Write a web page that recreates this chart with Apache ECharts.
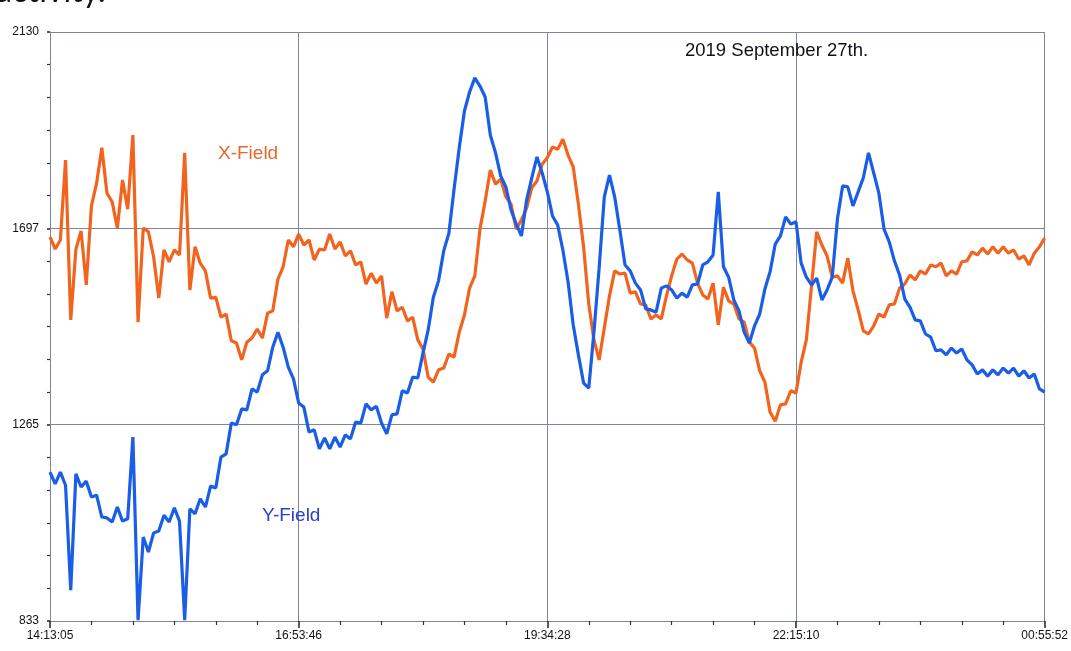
<!DOCTYPE html>
<html>
<head>
<meta charset="utf-8">
<script src="https://cdn.jsdelivr.net/npm/echarts@6/dist/echarts.min.js"></script>
<style>
html,body{margin:0;padding:0;background:#fff;}
#chart{width:1071px;height:651px;}
</style>
</head>
<body>
<div id="chart"></div>
<script>
// Time ticks (labels) and y tick labels
var xTickLabels = ['14:13:05', '16:53:46', '19:34:28', '22:15:10', '00:55:52'];
var yTickLabels = ['833', '1265', '1697', '2130'];
var majorStepSec = 9641;            // 2:40:41 between labelled ticks
var samplesPerMajor = 48;           // readings per labelled interval

// X-Field readings (orange)
var xField = [
1679,1652,1672,1848,1496,1652,1692,1573,1747,1797,
1875,1775,1756,1698,1804,1740,1903,1491,1698,1690,
1635,1544,1650,1624,1650,1639,1864,1562,1657,1621,
1604,1544,1546,1502,1509,1450,1445,1408,1447,1456,
1476,1456,1511,1516,1586,1613,1672,1657,1685,1661,
1672,1628,1652,1650,1685,1652,1668,1637,1648,1617,
1624,1575,1599,1577,1593,1500,1558,1516,1524,1494,
1502,1452,1432,1370,1359,1386,1390,1421,1414,1469,
1507,1566,1593,1696,1758,1826,1795,1806,1767,1751,
1696,1716,1742,1787,1802,1839,1853,1877,1872,1894,
1859,1833,1751,1657,1531,1452,1408,1478,1549,1604,
1597,1599,1555,1558,1531,1529,1498,1507,1498,1549,
1593,1630,1641,1628,1621,1577,1551,1542,1577,1485,
1568,1538,1531,1498,1491,1447,1434,1384,1359,1293,
1273,1309,1311,1340,1335,1403,1452,1571,1690,1661,
1637,1590,1593,1577,1632,1560,1518,1472,1465,1483,
1509,1502,1529,1531,1566,1575,1595,1584,1604,1597,
1617,1613,1621,1593,1604,1597,1624,1626,1646,1639,
1654,1641,1657,1643,1657,1643,1650,1630,1637,1617,
1643,1657,1676
];

// Y-Field readings (blue)
var yField = [
1161,1135,1161,1132,901,1157,1128,1141,1106,1110,
1062,1060,1051,1084,1053,1058,1238,835,1018,985,
1027,1031,1066,1051,1082,1053,835,1080,1069,1102,
1084,1130,1126,1194,1201,1269,1265,1300,1298,1344,
1337,1375,1384,1436,1469,1436,1392,1366,1313,1304,
1249,1254,1212,1236,1212,1238,1216,1243,1234,1271,
1269,1311,1298,1306,1269,1245,1287,1289,1340,1335,
1370,1368,1423,1474,1546,1582,1648,1687,1784,1875,
1956,1998,2029,2011,1987,1903,1864,1813,1789,1738,
1707,1681,1760,1809,1855,1820,1778,1725,1705,1650,
1580,1485,1419,1357,1346,1469,1610,1767,1815,1767,
1694,1617,1604,1577,1562,1520,1518,1513,1566,1571,
1562,1544,1555,1546,1573,1575,1617,1624,1639,1778,
1613,1590,1540,1516,1469,1445,1483,1509,1564,1602,
1663,1681,1723,1707,1712,1621,1590,1573,1588,1540,
1562,1590,1718,1791,1789,1747,1778,1809,1864,1820,
1775,1696,1668,1626,1595,1542,1524,1496,1494,1465,
1458,1428,1430,1419,1434,1423,1432,1408,1397,1377,
1386,1372,1386,1375,1390,1379,1390,1372,1384,1368,
1377,1344,1337
];

var yMin = 833, yMax = 2130;
var yStep = (yMax - yMin) / 3;
var sampleStep = majorStepSec / samplesPerMajor;

function pairs(arr) {
  return arr.map(function (v, i) { return [i * sampleStep, v]; });
}

var chart = echarts.init(document.getElementById('chart'), null, {renderer: 'canvas'});
var gridColor = '#7f859e';
var font = '"Liberation Sans", Arial, sans-serif';
chart.setOption({
  animation: false,
  backgroundColor: '#ffffff',
  grid: {left: 50, right: 24, top: 32, bottom: 30},
  xAxis: {
    type: 'value',
    min: 0,
    max: majorStepSec * 4,
    interval: majorStepSec,
    axisLine: {show: true, lineStyle: {color: '#7f859e', width: 1}},
    axisTick: {show: true, length: 7, lineStyle: {color: '#222', width: 1.5}},
    minorTick: {show: true, splitNumber: 6, length: 4, lineStyle: {color: '#333', width: 1.2}},
    splitLine: {show: true, lineStyle: {color: gridColor, width: 1}},
    axisLabel: {
      margin: 9,
      color: '#111',
      fontSize: 12,
      fontFamily: font,
      formatter: function (v) { return xTickLabels[Math.round(v / majorStepSec)] || ''; }
    }
  },
  yAxis: {
    type: 'value',
    min: yMin,
    max: yMax,
    interval: yStep,
    axisLine: {show: true, lineStyle: {color: '#7f859e', width: 1}},
    axisTick: {show: true, length: 3, lineStyle: {color: '#222', width: 1.5}},
    minorTick: {show: true, splitNumber: 6, length: 3, lineStyle: {color: '#333', width: 1.2}},
    splitLine: {show: true, lineStyle: {color: gridColor, width: 1}},
    axisLabel: {
      margin: 11,
      color: '#111',
      fontSize: 12,
      fontFamily: font,
      formatter: function (v) { return yTickLabels[Math.round((v - yMin) / yStep)] || ''; }
    }
  },
  series: [
    {
      name: 'X-Field',
      type: 'line',
      data: pairs(xField),
      showSymbol: false,
      lineStyle: {color: '#f2641e', width: 3.2},
      z: 2
    },
    {
      name: 'Y-Field',
      type: 'line',
      data: pairs(yField),
      showSymbol: false,
      lineStyle: {color: '#1a5de6', width: 3.2},
      z: 3
    }
  ],
  graphic: [
    {type: 'text', left: -4, top: -24, z: 10,
     style: {text: 'activity.', fill: '#111', font: '32px Lato, "Liberation Sans", sans-serif'}},
    {type: 'text', left: 685, top: 41, z: 10,
     style: {text: '2019 September 27th.', fill: '#111', font: '18.5px ' + font}},
    {type: 'text', left: 218, top: 144, z: 10,
     style: {text: 'X-Field', fill: '#e2692f', font: '19px ' + font}},
    {type: 'text', left: 262, top: 506, z: 10,
     style: {text: 'Y-Field', fill: '#2a40cc', font: '19px ' + font}}
  ]
});
</script>
</body>
</html>
